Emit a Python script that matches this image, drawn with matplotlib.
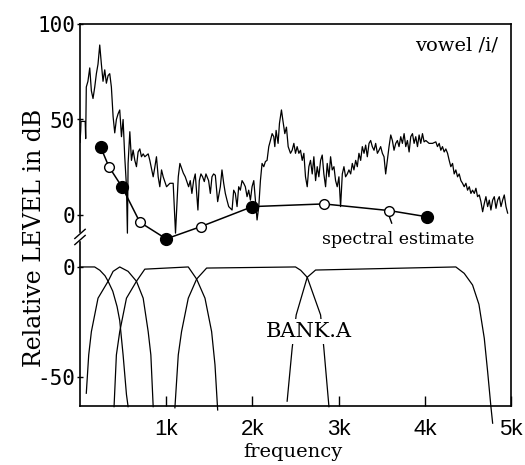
import numpy as np
import matplotlib.pyplot as plt

# upper panel: measured spectrum of vowel /i/ (Hz, dB)
spec_freq = [0, 8, 12, 60, 66, 73, 92, 113, 132, 151, 171, 190, 209, 229, 248, 267, 287, 306, 326, 345,
             364, 384, 403, 422, 442, 461, 481, 500, 519, 539, 550, 558, 578, 597, 616, 636, 655, 674, 694, 713,
             733, 752, 791, 810, 849, 868, 887, 907, 926, 946, 965, 984, 1004, 1043, 1081, 1108, 1140, 1159, 1198, 1221,
             1260, 1279, 1298, 1318, 1337, 1368, 1384, 1403, 1422, 1442, 1461, 1492, 1512, 1531, 1550, 1570, 1597, 1628, 1647, 1667,
             1686, 1705, 1725, 1764, 1783, 1802, 1822, 1841, 1860, 1880, 1899, 1918, 1938, 1957, 1977, 1996, 2016, 2035, 2054, 2074,
             2093, 2112, 2132, 2151, 2170, 2190, 2209, 2229, 2248, 2260, 2275, 2298, 2314, 2337, 2353, 2376, 2395, 2415, 2442, 2461,
             2481, 2500, 2519, 2539, 2558, 2578, 2597, 2616, 2636, 2655, 2674, 2694, 2713, 2733, 2752, 2771, 2791, 2810, 2829, 2849,
             2868, 2888, 2907, 2926, 2946, 2965, 2984, 3004, 3023, 3043, 3062, 3081, 3101, 3120, 3140, 3159, 3178, 3198, 3217, 3236,
             3256, 3275, 3295, 3314, 3333, 3353, 3372, 3391, 3411, 3430, 3450, 3469, 3488, 3508, 3527, 3546, 3566, 3585, 3605, 3624,
             3643, 3663, 3682, 3701, 3721, 3740, 3760, 3779, 3798, 3818, 3837, 3857, 3876, 3895, 3915, 3934, 3953, 3973, 3992, 4012,
             4050, 4089, 4128, 4147, 4167, 4186, 4205, 4225, 4244, 4264, 4283, 4302, 4322, 4341, 4360, 4380, 4399, 4419, 4438, 4457,
             4477, 4496, 4516, 4535, 4554, 4574, 4593, 4612, 4632, 4651, 4671, 4690, 4709, 4729, 4748, 4767, 4787, 4806, 4826, 4845,
             4864, 4884, 4903, 4922, 4942, 4961]
spec_db = [38, 44, 49, 49, 40, 67, 70, 77, 65, 61, 67, 74, 79, 89, 79, 70, 76, 69, 73, 74,
           67, 51.5, 43, 50, 53, 55, 41, 50, 30.5, 15, -9.5, 27, 43.6, 28.6, 34, 28.6, 25.3, 33, 34.6, 30.5,
           32, 30.5, 32, 28.6, 20, 25, 30.5, 20, 14.8, 23.6, 20, 17.5, 14.8, 16.6, 16.6, -9.5, 20, 27, 22, 20,
           14.8, 18, 11.3, 18, 21.5, 2.6, 18, 21.5, 20, 17.5, 21.5, 18, 11.3, 20, 21.5, 20.8, 7, 14.8, 23.6, 16.6,
           11.3, 7.8, 4.4, 2.6, 13, 11.3, 4.4, 14.8, 13, 18, 16.6, 14.8, 9.6, 13, 7.8, 14.8, 18, 7.8, -2.6, 4.4,
           18, 27, 25.3, 28, 28.6, 35.8, 39, 42.6, 41, 35.8, 44.3, 37.5, 48, 55, 49.7, 42.6, 46, 35.8, 32.3, 33.9,
           37.5, 32.3, 35.8, 32.3, 33.9, 28.6, 32.3, 20, 14.8, 25.3, 28.6, 21.5, 30.5, 18, 25.3, 20, 28.6, 31.4, 21.5, 14.8,
           27, 20, 30.5, 23.6, 25.3, 18, 14.8, 20, 4.4, 21.5, 25.3, 20, 21.5, 23.6, 21.5, 27, 23.6, 28.6, 25.3, 32.3,
           28.6, 35.8, 32.3, 36.6, 30.5, 37.5, 39, 35.8, 33.9, 37.5, 32.3, 33.9, 35.8, 32.3, 30.5, 21.5, 28.6, 35.8, 41.9, 39,
           33.9, 37.5, 39, 35.8, 41, 37.5, 42.6, 35.8, 39, 33, 41, 42.6, 37.5, 41, 35.8, 41.9, 37.5, 42.6, 38.3, 39,
           37.5, 37.5, 38.3, 35.8, 37.5, 33.9, 35.8, 33, 34.6, 32.3, 28.6, 25.3, 27, 21.5, 23.6, 20, 21.5, 18, 16.6, 14.8,
           16.6, 13, 14.8, 11.3, 13, 11.3, 14, 9.6, 10.5, 7, 1.7, 6, 9.6, 4.4, 7.8, 2.6, 7.8, 9.6, 3.5, 7.8,
           9.6, 4.4, 7.8, 10.5, 4.4, 1]

# spectral estimate (filled = bank centres, open = intermediate)
est_freq = [240, 335, 490, 695, 1000, 1400, 2000, 2830, 3590, 4020]
est_db = [35.5, 25.3, 14.5, -3.8, -12.5, -6.1, 4.4, 5.8, 2.3, -0.9]
est_filled = [True, False, True, False, True, False, True, False, False, True]

# lower panel: filter responses of BANK.A (Hz, dB)
f1_freq = [0, 100, 170, 230, 290, 326, 380, 430, 461, 500, 539, 558]
f1_db = [0, 0, 0, -1.5, -4, -6.5, -11, -18, -24.4, -40, -58, -63.5]
f2_freq = [73, 101, 132, 209, 326, 384, 461, 558, 655, 733, 791, 822, 849]
f2_db = [-57.4, -40, -29.4, -14.2, -6.5, -2, 0, -2, -6.5, -14.2, -29.4, -40, -63.5]
f3_freq = [395, 422, 461, 539, 655, 752, 1256, 1353, 1450, 1527, 1566, 1597]
f3_db = [-63.5, -40, -29.4, -14.2, -6.5, -1, 0, -5.5, -14.2, -29.4, -44.5, -65]
f4_freq = [1101, 1140, 1178, 1256, 1353, 1469, 2500, 2560, 2636, 2791, 2829, 2888]
f4_db = [-64, -40, -29.4, -14.2, -5.5, -0.5, 0, -1.5, -4.7, -21.8, -37, -63.5]
f5_freq = [2403, 2461, 2508, 2636, 2733, 4360, 4457, 4554, 4628, 4690, 4729, 4767, 4787]
f5_db = [-61, -37, -21.8, -4.7, -1.4, 0, -2.9, -8.2, -17, -32.4, -47.6, -63.5, -71]
filters = [(f1_freq, f1_db), (f2_freq, f2_db), (f3_freq, f3_db), (f4_freq, f4_db), (f5_freq, f5_db)]

x_ticks = [1000, 2000, 3000, 4000, 5000]
x_labels = ['1k', '2k', '3k', '4k', '5k']

# broken y axis: lower panel dB drawn at its own offset and scale
LOWER_ZERO = -27.2
LOWER_SCALE = 1.152


def to_lower(v):
    return LOWER_ZERO + LOWER_SCALE * np.asarray(v, dtype=float)


serif = 'DejaVu Serif'

fig = plt.figure(figsize=(5.25, 4.65), dpi=100)
ax = fig.add_axes([80 / 525, 1 - 406 / 465, 431 / 525, 382 / 465])
ax.set_xlim(0, 5000)
ax.set_ylim(-100, 100)

ax.plot(spec_freq, spec_db, color='k', lw=0.9)

ax.plot(est_freq, est_db, color='k', lw=1.1, clip_on=False, zorder=3)
for f, d, filled in zip(est_freq, est_db, est_filled):
    if filled:
        ax.plot(f, d, 'o', ms=8.5, color='k', clip_on=False, zorder=4)
    else:
        ax.plot(f, d, 'o', ms=7, mfc='white', mec='k', mew=1.0, clip_on=False, zorder=4)

for fr, db in filters:
    ax.plot(fr, to_lower(db), color='k', lw=0.9, clip_on=False)

# spines with the break mark on the left
ax.spines['left'].set_visible(False)
for s in ['top', 'right', 'bottom']:
    ax.spines[s].set_linewidth(1.2)
yb = (-11.5 + 100) / 200
ax.plot([0, 0], [1, yb + 0.012], transform=ax.transAxes, color='k', lw=1.2, clip_on=False)
ax.plot([0, 0], [yb - 0.012, 0], transform=ax.transAxes, color='k', lw=1.2, clip_on=False)
for dy in [0.008, -0.008]:
    ax.plot([-0.012, 0.012], [yb + dy - 0.012, yb + dy + 0.012], transform=ax.transAxes,
            color='k', lw=1.0, clip_on=False)

ax.set_xticks(x_ticks)
ax.set_xticklabels(x_labels, fontfamily='Liberation Sans', fontsize=16)
ax.tick_params(axis='x', direction='in', length=7, width=1, pad=9)
ax.set_yticks([100, 50, 0, float(to_lower(0)), float(to_lower(-50))])
ax.set_yticklabels(['100', '50', '0', '0', '-50'], fontfamily='DejaVu Sans Mono', fontsize=15)
ax.tick_params(axis='y', direction='inout', length=5, width=1, pad=1)

ax.text(4850, 89, 'vowel /i/', ha='right', va='center', fontfamily=serif, fontsize=14)
ax.annotate('spectral estimate', xy=(3590, -1), xytext=(3686, -13), ha='center', va='center',
            fontfamily=serif, fontsize=12.5,
            arrowprops=dict(arrowstyle='-', color='k', lw=1.0, shrinkA=4, shrinkB=0))
ax.text(2650, -61, 'BANK.A', ha='center', va='center', fontfamily=serif, fontsize=15,
        bbox=dict(facecolor='white', edgecolor='none', pad=2))

fig.text(35 / 525, 1 - 238 / 465, 'Relative LEVEL in dB', rotation=90, ha='center', va='center',
         fontfamily=serif, fontsize=17)
fig.text(293 / 525, 1 - 443 / 465, 'frequency', ha='center', va='top', fontfamily=serif, fontsize=14)

fig.savefig('out.png', dpi=100)
